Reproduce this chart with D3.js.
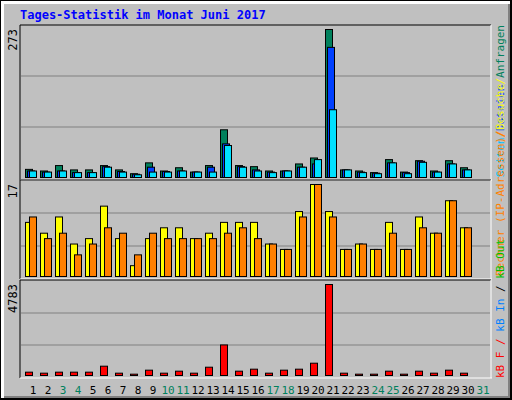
<!DOCTYPE html>
<html>
<head>
<script src="https://d3js.org/d3.v7.min.js"></script>
<style>body{margin:0;background:#fff}text{font-family:"DejaVu Sans Mono",monospace}</style>
</head>
<body>
<div id="chart"></div>
<script>
var days = d3.range(1, 32);
var weekend = [3, 4, 10, 11, 17, 18, 24, 25, 31];
var anfragen = [15,12,22,14,14,22,14,7,27,12,18,10,22,88,22,20,12,12,25,36,273,14,12,9,33,10,31,12,31,18];
var dateien  = [12,10,12,9,9,20,11,6,19,11,12,10,19,62,20,14,10,12,19,25,240,14,10,8,27,9,30,10,25,14];
var seiten   = [12,10,12,9,9,19,10,5,10,10,12,10,10,59,19,12,9,12,19,33,125,14,9,7,27,7,28,10,25,14];
var besuche  = [10,8,11,6,7,13,7,2,7,9,9,7,8,10,10,10,6,5,12,17,12,5,6,5,10,5,11,8,14,9];
var rechner  = [11,7,8,4,6,9,8,4,8,7,7,7,7,8,9,7,6,5,11,17,11,5,6,5,8,5,9,8,14,9];
var kbF = [175,122,175,175,175,489,122,70,280,122,227,122,436,1606,227,332,122,280,332,646,4783,122,70,70,227,70,227,122,280,122];

var W = 512, H = 400, L = 20, R = 491;
var svg = d3.select("#chart").append("svg").attr("width", W).attr("height", H);

// frame
svg.append("rect").attr("width", W).attr("height", H).attr("fill", "#000");
svg.append("rect").attr("x", 1).attr("y", 1).attr("width", W - 3).attr("height", H - 3).attr("fill", "#fff");
svg.append("rect").attr("x", 4).attr("y", 4).attr("width", W - 6).attr("height", H - 6).attr("fill", "#808080");
svg.append("rect").attr("x", 4).attr("y", 4).attr("width", W - 8).attr("height", H - 8).attr("fill", "#c0c0c0");

svg.append("text").attr("x", 20).attr("y", 19).attr("fill", "#0000ff")
  .attr("font-size", 12).attr("font-weight", "bold").text("Tages-Statistik im Monat Juni 2017");

var x = d3.scaleBand().domain(days).range([25, 25 + 15 * 31]);

function panel(top, bottom, maxTop, max, series, colors, offs, widths, grid) {
  var y = d3.scaleLinear().domain([0, max]).range([bottom, maxTop]);
  svg.append("line").attr("x1", L).attr("x2", R).attr("y1", top).attr("y2", top).attr("stroke", "#000");
  svg.append("line").attr("x1", L).attr("x2", L).attr("y1", top).attr("y2", bottom + 3).attr("stroke", "#000");
  svg.append("line").attr("x1", R).attr("x2", R).attr("y1", top).attr("y2", bottom + 3).attr("stroke", "#fff");
  svg.append("line").attr("x1", L).attr("x2", R + 1).attr("y1", bottom + 3).attr("y2", bottom + 3).attr("stroke", "#fff");
  grid.forEach(function (g) {
    svg.append("line").attr("x1", L + 1).attr("x2", R - 1).attr("y1", g).attr("y2", g).attr("stroke", "#808080");
  });
  svg.append("text").attr("transform", "translate(17," + maxTop + ")rotate(-90)")
    .attr("text-anchor", "end").attr("font-size", 12).attr("fill", "#000").text(max);
  series.forEach(function (s, k) {
    svg.append("g").selectAll("rect").data(s).enter().append("rect")
      .attr("x", function (d, i) { return x(i + 1) + offs[k] + 0.5; })
      .attr("y", function (d) { return y(d) + 0.5; })
      .attr("width", widths[k])
      .attr("height", function (d) { return bottom - y(d); })
      .attr("fill", colors[k]).attr("stroke", "#000");
  });
}

panel(25, 177, 29, 273, [anfragen, dateien, seiten], ["#00805c", "#0040ff", "#00e0ff"], [0, 2, 4], [7, 7, 7], [76, 127]);
panel(180, 276, 184, 17, [besuche, rechner], ["#ffff00", "#ff8000"], [0, 4], [7, 7], [213, 246]);
panel(280, 375, 284, 4783, [kbF], ["#ff0000"], [0], [7], [313, 345]);

// day labels
svg.append("g").selectAll("text").data(days).enter().append("text")
  .attr("x", function (d) { return x(d) + 8; }).attr("y", 394)
  .attr("text-anchor", "middle").attr("font-size", 11)
  .attr("fill", function (d) { return weekend.indexOf(d) >= 0 ? "#00805c" : "#000"; })
  .text(function (d) { return d; });

// right legends
function legend(yPos, anchor, parts) {
  var t = svg.append("text").attr("transform", "translate(504," + yPos + ")rotate(-90)")
    .attr("text-anchor", anchor).attr("font-size", 11);
  parts.forEach(function (p) { t.append("tspan").attr("fill", p[1]).text(p[0]); });
}
legend(25, "end", [["Seiten", "#00c0ff"], ["/", "#ff8000"], ["Dateien", "#0040ff"], ["/", "#ffff00"], ["Anfragen", "#00805c"]]);
legend(276, "start", [["Rechner (IP-Adressen)", "#ff8000"], ["/", "#ff8000"], ["Besuche", "#ffff00"]]);
legend(378, "start", [["kB F", "#ff0000"], [" / ", "#ff0000"], ["kB In", "#0080ff"], [" / ", "#000"], ["kB Out", "#00c000"]]);
</script>
</body>
</html>
